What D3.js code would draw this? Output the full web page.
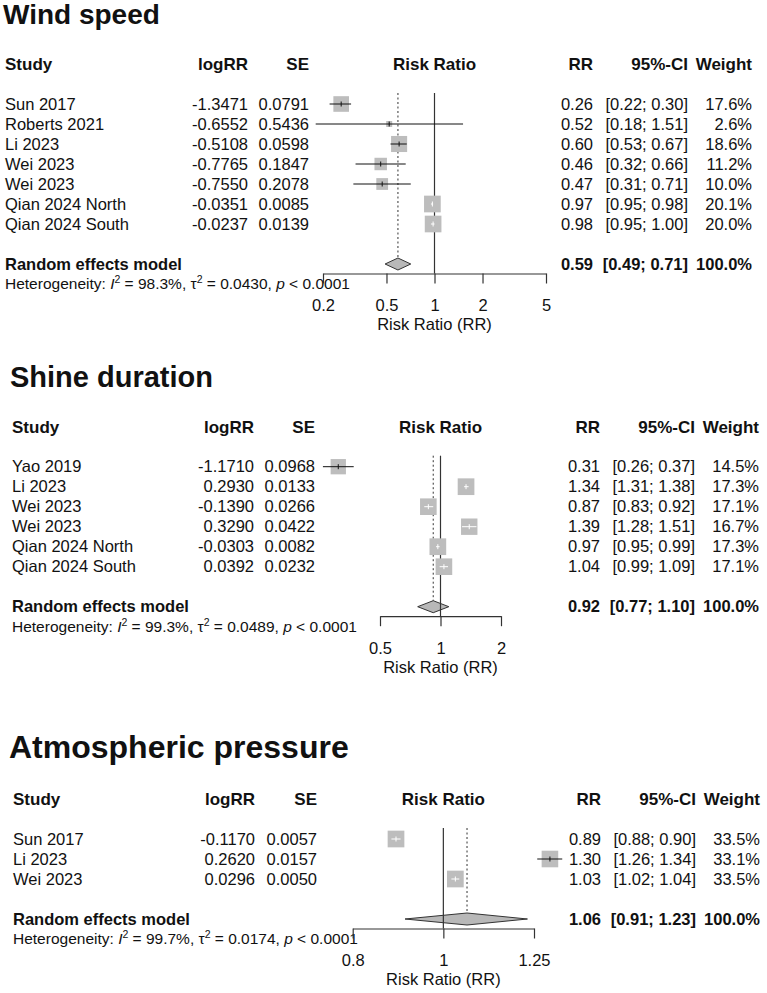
<!DOCTYPE html>
<html>
<head>
<meta charset="utf-8">
<script src="https://cdn.jsdelivr.net/npm/d3@7"></script>
<style>
body { margin: 0; background: #fff; }
svg text { font-family: "Liberation Sans", Arial, Helvetica, sans-serif; fill: #111; }
</style>
</head>
<body>
<svg id="chart" width="767" height="993"></svg>
<script>
// ---- Wind speed
const windStudies = ['Sun 2017', 'Roberts 2021', 'Li 2023', 'Wei 2023', 'Wei 2023', 'Qian 2024 North', 'Qian 2024 South']
const windLogRR = [-1.3471, -0.6552, -0.5108, -0.7765, -0.7550, -0.0351, -0.0237]
const windSE = [0.0791, 0.5436, 0.0598, 0.1847, 0.2078, 0.0085, 0.0139]
const windRR = [0.26, 0.52, 0.60, 0.46, 0.47, 0.97, 0.98]
const windLower = [0.22, 0.18, 0.53, 0.32, 0.31, 0.95, 0.95]
const windUpper = [0.30, 1.51, 0.67, 0.66, 0.71, 0.98, 1.00]
const windWeight = [17.6, 2.6, 18.6, 11.2, 10.0, 20.1, 20.0]
const windPooled = [0.59, 0.49, 0.71]
const windHet = ['98.3%', '0.0430', '0.0001']
const windTicks = [0.2, 0.5, 1, 2, 5]

// ---- Shine duration
const shineStudies = ['Yao 2019', 'Li 2023', 'Wei 2023', 'Wei 2023', 'Qian 2024 North', 'Qian 2024 South']
const shineLogRR = [-1.1710, 0.2930, -0.1390, 0.3290, -0.0303, 0.0392]
const shineSE = [0.0968, 0.0133, 0.0266, 0.0422, 0.0082, 0.0232]
const shineRR = [0.31, 1.34, 0.87, 1.39, 0.97, 1.04]
const shineLower = [0.26, 1.31, 0.83, 1.28, 0.95, 0.99]
const shineUpper = [0.37, 1.38, 0.92, 1.51, 0.99, 1.09]
const shineWeight = [14.5, 17.3, 17.1, 16.7, 17.3, 17.1]
const shinePooled = [0.92, 0.77, 1.10]
const shineHet = ['99.3%', '0.0489', '0.0001']
const shineTicks = [0.5, 1, 2]

// ---- Atmospheric pressure
const pressStudies = ['Sun 2017', 'Li 2023', 'Wei 2023']
const pressLogRR = [-0.1170, 0.2620, 0.0296]
const pressSE = [0.0057, 0.0157, 0.0050]
const pressRR = [0.89, 1.30, 1.03]
const pressLower = [0.88, 1.26, 1.02]
const pressUpper = [0.90, 1.34, 1.04]
const pressWeight = [33.5, 33.1, 33.5]
const pressPooled = [1.06, 0.91, 1.23]
const pressHet = ['99.7%', '0.0174', '0.0001']
const pressTicks = [0.8, 1, 1.25]

const headers = ['Study', 'logRR', 'SE', 'Risk Ratio', 'RR', '95%-CI', 'Weight']

const loc = d3.formatLocale({decimal: '.', thousands: ',', grouping: [3], currency: ['', ''], minus: '-'})
const f4 = loc.format('.4f')
const f2 = loc.format('.2f')
const f1 = loc.format('.1f')

const svg = d3.select('#chart')

function drawPanel(p, lay) {
    const g = svg.append('g')
    const n = p.studies.length
    const x = d3.scaleLog().domain(d3.extent(p.ticks)).range(lay.axisRange)
    const mid = (lay.axisRange[0] + lay.axisRange[1]) / 2
    const rowY = i => lay.row0 + i * 20
    const pooledY = rowY(n + 1)
    const hetY = rowY(n + 2)
    const axisY = pooledY + 9.5
    const size = d3.scaleSqrt().domain([0, d3.max(p.weight)]).range([0, 16.7])
    const topY = lay.row0 - 11

    g.append('text')
        .attr('x', lay.titleX).attr('y', lay.titleY)
        .attr('font-size', lay.titleSize).attr('font-weight', 'bold')
        .text(p.title)

    // column headers
    const hx = [lay.left, lay.cols[0], lay.cols[1], mid, lay.cols[2], lay.cols[3], lay.cols[4]]
    const ha = ['start', 'end', 'end', 'middle', 'end', 'end', 'end']
    g.selectAll('.hdr').data(headers).enter().append('text')
        .attr('x', (d, i) => hx[i]).attr('y', lay.headerY).attr('dy', '0.35em')
        .attr('text-anchor', (d, i) => ha[i])
        .attr('font-size', 17).attr('font-weight', 'bold')
        .text(d => d)

    // study rows
    const rows = p.studies.map((s, i) => [
        s, f4(p.logRR[i]), f4(p.se[i]), f2(p.rr[i]),
        '[' + f2(p.lower[i]) + '; ' + f2(p.upper[i]) + ']', f1(p.weight[i]) + '%'
    ])
    const cx = [lay.left, lay.cols[0], lay.cols[1], lay.cols[2], lay.cols[3], lay.cols[4]]
    rows.forEach((r, i) => {
        g.selectAll(null).data(r).enter().append('text')
            .attr('x', (d, j) => cx[j]).attr('y', rowY(i)).attr('dy', '0.35em')
            .attr('text-anchor', (d, j) => j === 0 ? 'start' : 'end')
            .attr('font-size', 16.5)
            .text(d => d)
    })

    // pooled row
    const pooledText = ['Random effects model', f2(p.pooled[0]),
        '[' + f2(p.pooled[1]) + '; ' + f2(p.pooled[2]) + ']', '100.0%']
    const px = [lay.left, lay.cols[2], lay.cols[3], lay.cols[4]]
    g.selectAll(null).data(pooledText).enter().append('text')
        .attr('x', (d, j) => px[j]).attr('y', pooledY).attr('dy', '0.35em')
        .attr('text-anchor', (d, j) => j === 0 ? 'start' : 'end')
        .attr('font-size', 16.5).attr('font-weight', 'bold')
        .text(d => d)

    // heterogeneity
    const het = g.append('text')
        .attr('x', lay.left).attr('y', hetY).attr('dy', '0.35em')
        .attr('font-size', 15.5)
    het.append('tspan').text('Heterogeneity: ')
    het.append('tspan').attr('font-style', 'italic').text('I')
    het.append('tspan').attr('font-size', 10.5).attr('dy', -6).text('2')
    het.append('tspan').attr('dy', 6).text(' = ' + p.het[0] + ', \u03c4')
    het.append('tspan').attr('font-size', 10.5).attr('dy', -6).text('2')
    het.append('tspan').attr('dy', 6).text(' = ' + p.het[1] + ', ')
    het.append('tspan').attr('font-style', 'italic').text('p')
    het.append('tspan').text(' < ' + p.het[2])

    // diamond for pooled estimate
    const dh = 6
    g.append('path')
        .attr('d', 'M' + x(p.pooled[1]) + ',' + pooledY +
            'L' + x(p.pooled[0]) + ',' + (pooledY - dh) +
            'L' + x(p.pooled[2]) + ',' + pooledY +
            'L' + x(p.pooled[0]) + ',' + (pooledY + dh) + 'Z')
        .attr('fill', '#b8b8b8')
        .attr('stroke', '#333')
        .attr('stroke-width', 1)

    // reference lines
    g.append('line')
        .attr('x1', x(1)).attr('x2', x(1))
        .attr('y1', topY).attr('y2', axisY)
        .attr('stroke', '#333').attr('stroke-width', 1.2)
    g.append('line')
        .attr('x1', x(p.pooled[0])).attr('x2', x(p.pooled[0]))
        .attr('y1', topY).attr('y2', pooledY - dh)
        .attr('stroke', '#333').attr('stroke-width', 1)
        .attr('stroke-dasharray', '2,2.5')

    // squares and CI lines
    p.rr.forEach((rr, i) => {
        const y = rowY(i)
        const s = size(p.weight[i])
        const xc = x(rr)
        const x0 = x(p.lower[i]), x1 = x(p.upper[i])
        g.append('rect')
            .attr('x', xc - s / 2).attr('y', y - s / 2)
            .attr('width', s).attr('height', s)
            .attr('fill', '#bdbdbd')
        const inside = (x1 - x0) < s
        const col = inside ? '#fff' : '#111'
        g.append('line')
            .attr('x1', x0).attr('x2', x1).attr('y1', y).attr('y2', y)
            .attr('stroke', col).attr('stroke-width', 1)
        g.append('line')
            .attr('x1', xc).attr('x2', xc).attr('y1', y - 2.5).attr('y2', y + 2.5)
            .attr('stroke', col).attr('stroke-width', 1)
    })

    // axis
    const axis = g.append('g')
        .attr('transform', 'translate(0,' + axisY + ')')
        .call(d3.axisBottom(x)
            .tickValues(p.ticks)
            .tickFormat(d => String(d))
            .tickSize(10)
            .tickSizeOuter(0)
            .tickPadding(16))
    axis.attr('font-size', 16.5)
    axis.selectAll('text').attr('font-size', 16.5)
    axis.selectAll('path, line').attr('stroke', '#333').attr('stroke-width', 1.2)

    g.append('text')
        .attr('x', mid).attr('y', axisY + 51).attr('dy', '0.35em')
        .attr('text-anchor', 'middle')
        .attr('font-size', 16.5)
        .text('Risk Ratio (RR)')
}

drawPanel({
    title: 'Wind speed', studies: windStudies, logRR: windLogRR, se: windSE,
    rr: windRR, lower: windLower, upper: windUpper, weight: windWeight,
    pooled: windPooled, het: windHet, ticks: windTicks
}, {
    titleX: 3, titleY: 24, titleSize: 28, left: 5, headerY: 64.5, row0: 104,
    cols: [248, 309, 593, 688, 752], axisRange: [323, 546]
})

drawPanel({
    title: 'Shine duration', studies: shineStudies, logRR: shineLogRR, se: shineSE,
    rr: shineRR, lower: shineLower, upper: shineUpper, weight: shineWeight,
    pooled: shinePooled, het: shineHet, ticks: shineTicks
}, {
    titleX: 10, titleY: 387, titleSize: 29, left: 12, headerY: 426.7, row0: 466.7,
    cols: [254, 315, 600, 695, 759], axisRange: [380, 501]
})

drawPanel({
    title: 'Atmospheric pressure', studies: pressStudies, logRR: pressLogRR, se: pressSE,
    rr: pressRR, lower: pressLower, upper: pressUpper, weight: pressWeight,
    pooled: pressPooled, het: pressHet, ticks: pressTicks
}, {
    titleX: 9, titleY: 758, titleSize: 32, left: 13, headerY: 799, row0: 839,
    cols: [255, 317, 601, 696, 760], axisRange: [352.7, 534]
})
</script>
</body>
</html>
